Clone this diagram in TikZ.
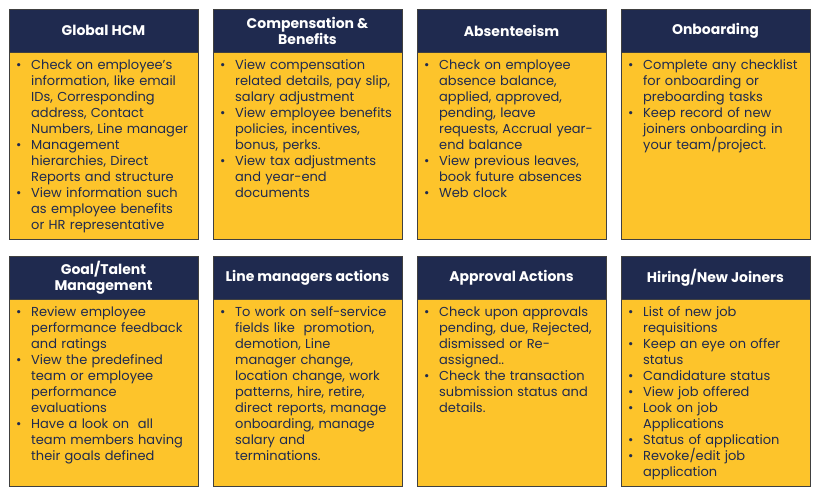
\documentclass[tikz,border=0pt]{standalone}
\usepackage{fontspec}
\setmainfont{Poppins}
\usetikzlibrary{positioning}
\definecolor{navy}{HTML}{1F2A4F}
\definecolor{gold}{HTML}{FDC42B}
\newcommand{\bul}{\par\noindent\hangindent=15pt\hangafter=1\makebox[15pt][l]{\textbullet}}

\begin{document}
\begin{tikzpicture}[
head/.style={rectangle, draw=black!75, fill=navy, text=white, font=\fontsize{14}{16}\selectfont\bfseries, minimum width=189pt, minimum height=43pt, inner sep=0pt, outer sep=0pt, align=center},
panel/.style={rectangle, draw=black!75, fill=gold, minimum width=189pt, minimum height=187pt, inner sep=0pt, outer sep=0pt},
items/.style={inner sep=0pt, text width=182pt, align=left, text=navy, font=\fontsize{13}{16}\selectfont}]

\useasboundingbox (0,0) rectangle (819pt,-494pt);

% Headers, top row
\node[head] (hcm) at (103.5pt,-30.5pt) {Global HCM};
\node[head, right=15pt of hcm] (comp) {Compensation \&\\Benefits};
\node[head, right=15pt of comp] (absent) {Absenteeism};
\node[head, right=15pt of absent] (onboard) {Onboarding};

% Panels, top row
\node[panel, below=0pt of hcm] (hcmbody) {};
\node[panel, below=0pt of comp] (compbody) {};
\node[panel, below=0pt of absent] (absentbody) {};
\node[panel, below=0pt of onboard] (onboardbody) {};

% Headers, bottom row
\node[head, below=17pt of hcmbody] (goal) {Goal/Talent\\Management};
\node[head, right=15pt of goal] (linemgr) {Line managers actions};
\node[head, right=15pt of linemgr] (approval) {Approval Actions};
\node[head, right=15pt of approval] (hiring) {Hiring/New Joiners};

% Panels, bottom row
\node[panel, below=0pt of goal] (goalbody) {};
\node[panel, below=0pt of linemgr] (linemgrbody) {};
\node[panel, below=0pt of approval] (approvalbody) {};
\node[panel, below=0pt of hiring] (hiringbody) {};

% Bullet lists
\node[items, below right=1.5pt and 7pt of hcmbody.north west] (hcmtxt) {%
\bul Check on employee's\newline information, like email\newline IDs, Corresponding\newline address, Contact\newline Numbers, Line manager
\bul Management\newline hierarchies, Direct\newline Reports and structure
\bul View information such\newline as employee benefits\newline or HR representative\par};

\node[items, below right=1.5pt and 7pt of compbody.north west] (comptxt) {%
\bul View compensation\newline related details, pay slip,\newline salary adjustment
\bul View employee benefits\newline policies, incentives,\newline bonus, perks.
\bul View tax adjustments\newline and year-end\newline documents\par};

\node[items, below right=1.5pt and 7pt of absentbody.north west] (absenttxt) {%
\bul Check on employee\newline absence balance,\newline applied, approved,\newline pending, leave\newline requests, Accrual year-\newline end balance
\bul View previous leaves,\newline book future absences
\bul Web clock\par};

\node[items, below right=1.5pt and 7pt of onboardbody.north west] (onboardtxt) {%
\bul Complete any checklist\newline for onboarding or\newline preboarding tasks
\bul Keep record of new\newline joiners onboarding in\newline your team/project.\par};

\node[items, below right=1.5pt and 7pt of goalbody.north west] (goaltxt) {%
\bul Review employee\newline performance feedback\newline and ratings
\bul View the predefined\newline team or employee\newline performance\newline evaluations
\bul Have a look on\ \ all\newline team members having\newline their goals defined\par};

\node[items, below right=1.5pt and 7pt of linemgrbody.north west] (linemgrtxt) {%
\bul To work on self-service\newline fields like\ \ promotion,\newline demotion, Line\newline manager change,\newline location change, work\newline patterns, hire, retire,\newline direct reports, manage\newline onboarding, manage\newline salary and\newline terminations.\par};

\node[items, below right=1.5pt and 7pt of approvalbody.north west] (approvaltxt) {%
\bul Check upon approvals\newline pending, due, Rejected,\newline dismissed or Re-\newline assigned..
\bul Check the transaction\newline submission status and\newline details.\par};

\node[items, below right=1.5pt and 7pt of hiringbody.north west] (hiringtxt) {%
\bul List of new job\newline requisitions
\bul Keep an eye on offer\newline status
\bul Candidature status
\bul View job offered
\bul Look on job\newline Applications
\bul Status of application
\bul Revoke/edit job\newline application\par};
\end{tikzpicture}
\end{document}
